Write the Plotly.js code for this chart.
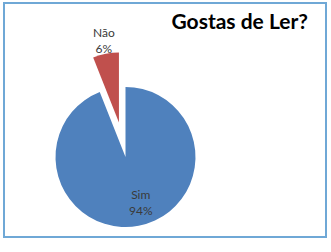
<!DOCTYPE html>
<html>
<head>
<meta charset="utf-8">
<script src="https://cdn.plot.ly/plotly-3.0.1.min.js"></script>
<style>
html,body{margin:0;padding:0;overflow:hidden;background:#fff;}
#chart{width:331px;height:400px;}
</style>
</head>
<body>
<div id="chart"></div>
<script>
const categories = ["Sim", "Não"];
const values = [94, 6];
const pulls = [0, 0.5];
const colors = ["#4F81BD", "#C0504D"];
const titleText = "Gostas de Ler?";

const W = 331, H = 400;
// pie box 210x210 centred at (125.5,157) px
const cx = 125.5, cy = 157, half = 105;
// label centres (px) for each category
const labelPos = [[140.5, 202], [104, 40.5]];

const total = values.reduce((a, b) => a + b, 0);

const trace = {
  type: "pie",
  labels: categories,
  values: values,
  pull: pulls,
  sort: false,
  direction: "clockwise",
  rotation: 0,
  marker: {colors: colors, line: {width: 0}},
  textinfo: "none",
  hoverinfo: "none",
  showlegend: false,
  domain: {x: [(cx - half) / W, (cx + half) / W], y: [1 - (cy + half) / H, 1 - (cy - half) / H]}
};

const annotations = categories.map((c, i) => ({
  xref: "paper", yref: "paper",
  x: labelPos[i][0] / W, y: 1 - labelPos[i][1] / H,
  xanchor: "center", yanchor: "middle",
  showarrow: false,
  text: c + "<br>" + Math.round(values[i] / total * 100) + "%",
  font: {family: "Lato, 'Open Sans', sans-serif", size: 12, color: "#3a3a3a"}
}));

const layout = {
  width: W, height: H,
  margin: {l: 0, r: 0, t: 0, b: 0, autoexpand: false},
  paper_bgcolor: "#ffffff",
  showlegend: false,
  title: {
    text: "<b>" + titleText + "</b>",
    font: {family: "Lato, 'Open Sans', sans-serif", size: 21, color: "#000000"},
    xref: "paper", yref: "container",
    x: 308 / W, xanchor: "right",
    y: 1 - 22 / H, yanchor: "middle"
  },
  annotations: annotations,
  shapes: [{
    type: "rect", xref: "paper", yref: "paper",
    x0: 4 / W, x1: 326 / W, y0: 1 - 237 / H, y1: 1 - 3 / H,
    line: {color: "#6FA8D6", width: 2}, fillcolor: "rgba(0,0,0,0)"
  }]
};

Plotly.newPlot("chart", [trace], layout, {displayModeBar: false, staticPlot: true});
</script>
</body>
</html>
